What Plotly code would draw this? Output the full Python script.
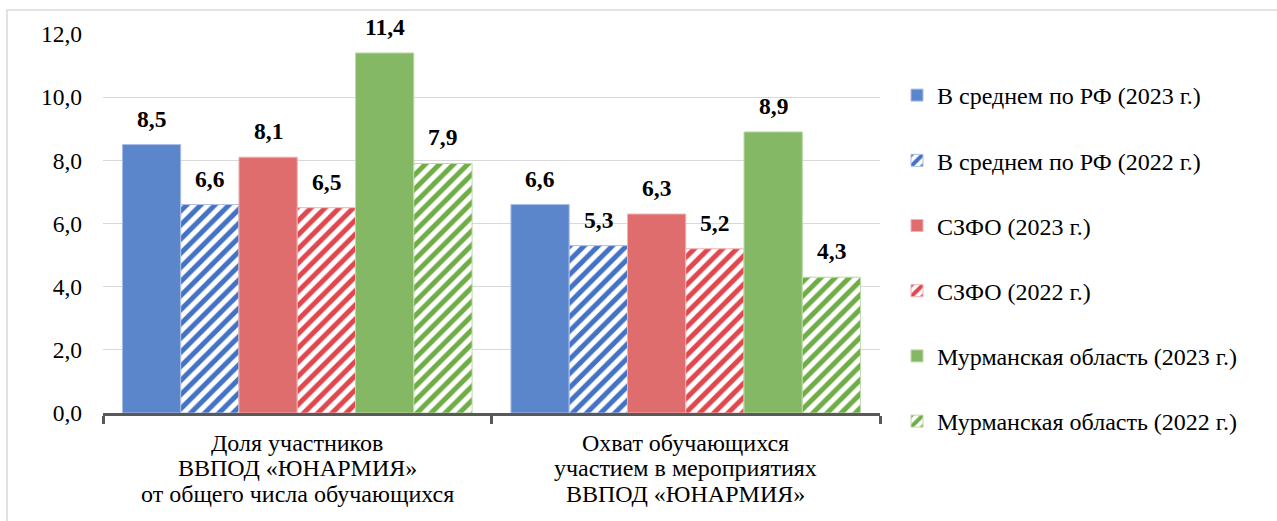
import plotly.graph_objects as go

# ---------------- data ----------------
categories = ["Доля участников", "Охват обучающихся"]
category_lines = [
    ["Доля участников", "ВВПОД «ЮНАРМИЯ»", "от общего числа обучающихся"],
    ["Охват обучающихся", "участием в мероприятиях", "ВВПОД «ЮНАРМИЯ»"],
]
series_names = [
    "В среднем по РФ (2023 г.)",
    "В среднем по РФ (2022 г.)",
    "СЗФО (2023 г.)",
    "СЗФО (2022 г.)",
    "Мурманская область (2023 г.)",
    "Мурманская область (2022 г.)",
]
rf_2023 = [8.5, 6.6]
rf_2022 = [6.6, 5.3]
szfo_2023 = [8.1, 6.3]
szfo_2022 = [6.5, 5.2]
murm_2023 = [11.4, 8.9]
murm_2022 = [7.9, 4.3]
series_values = [rf_2023, rf_2022, szfo_2023, szfo_2022, murm_2023, murm_2022]
y_ticks = [0, 2, 4, 6, 8, 10, 12]

# ---------------- styles ----------------
FONT = "Liberation Serif"
FS = 23.5
FS_LEG = 24
solid_colors = ["#5B86CB", None, "#E06D6D", None, "#84B864", None]
hatch_colors = [None, "#4472C4", None, "#E0474E", None, "#70AD47"]
edge_colors = ["#A9BFE6", "#A9BFE6", "#F0B1B1", "#F0B1B1", "#BCD9A8", "#BCD9A8"]

W, H = 1277, 521
L, R, T, B = 103, 880, 34, 413  # plot area in pixels
BARGAP = 0.1

fig = go.Figure()
for i, (name, vals) in enumerate(zip(series_names, series_values)):
    if solid_colors[i]:
        marker = dict(color=solid_colors[i], line=dict(color=edge_colors[i], width=1))
    else:
        marker = dict(
            color="white",
            line=dict(color=edge_colors[i], width=1),
            pattern=dict(shape="/", fgcolor=hatch_colors[i], bgcolor="white",
                         size=10, solidity=0.5, fillmode="replace", fgopacity=1),
        )
    fig.add_trace(go.Bar(
        name=name, x=categories, y=vals, marker=marker,
        legendgroup=f"g{i}", hoverinfo="skip",
    ))

# data labels (placed via the category axis scale)
n = len(series_names)
w = (1 - BARGAP) / n
annotations = []
for i, vals in enumerate(series_values):
    for c, v in enumerate(vals):
        annotations.append(dict(
            x=c + (i - (n - 1) / 2) * w, y=v, xref="x", yref="y",
            text="<b>" + f"{v:.1f}".replace(".", ",") + "</b>",
            showarrow=False, yanchor="bottom", yshift=11,
            font=dict(family=FONT, size=FS, color="#000000"),
        ))

# category labels, one annotation per line (tighter line spacing)
line_offsets = [-30, -55, -81]
for c, lines in enumerate(category_lines):
    for k, txt in enumerate(lines):
        annotations.append(dict(
            x=c, y=0, xref="x", yref="paper", text=txt, showarrow=False,
            yanchor="middle", yshift=line_offsets[k],
            font=dict(family=FONT, size=FS_LEG, color="#000000"),
        ))

pw, ph = R - L, B - T
fig.update_layout(
    width=W, height=H,
    margin=dict(l=L, r=W - R, t=T, b=H - B, pad=0),
    paper_bgcolor="white", plot_bgcolor="white",
    barmode="group", bargap=BARGAP, bargroupgap=0,
    separators=", ",
    font=dict(family=FONT, size=FS, color="#000000"),
    showlegend=True,
    legend=dict(
        x=(897 - L) / pw, y=(B - 73) / ph, xanchor="left", yanchor="top",
        font=dict(family=FONT, size=FS_LEG, color="#000000"),
        tracegroupgap=31, bgcolor="rgba(0,0,0,0)", maxheight=600,
    ),
    annotations=annotations,
    shapes=[dict(
        type="rect", xref="paper", yref="paper",
        x0=(7 - L) / pw, x1=(W + 20 - L) / pw,
        y0=(B - (H + 20)) / ph, y1=(B - 10) / ph,
        line=dict(color="#D9D9D9", width=1.5), fillcolor="rgba(0,0,0,0)",
        layer="below",
    )],
)
fig.update_xaxes(
    type="category", showticklabels=False, showgrid=False,
    showline=True, linecolor="#595959", linewidth=3,
    ticks="outside", tickson="boundaries", ticklen=8, tickwidth=3, tickcolor="#595959",
    zeroline=False,
)
fig.update_yaxes(
    range=[0, 12], tickvals=y_ticks, tickformat=".1f",
    showgrid=True, gridcolor="#D9D9D9", gridwidth=1,
    showline=False, zeroline=False, ticks="",
    ticklabelstandoff=20,
    tickfont=dict(family=FONT, size=FS, color="#000000"),
)

fig.write_html(
    "out.html",
    config={"displayModeBar": False},
    post_script="document.body.style.margin='0';document.body.style.overflow='hidden';",
)
